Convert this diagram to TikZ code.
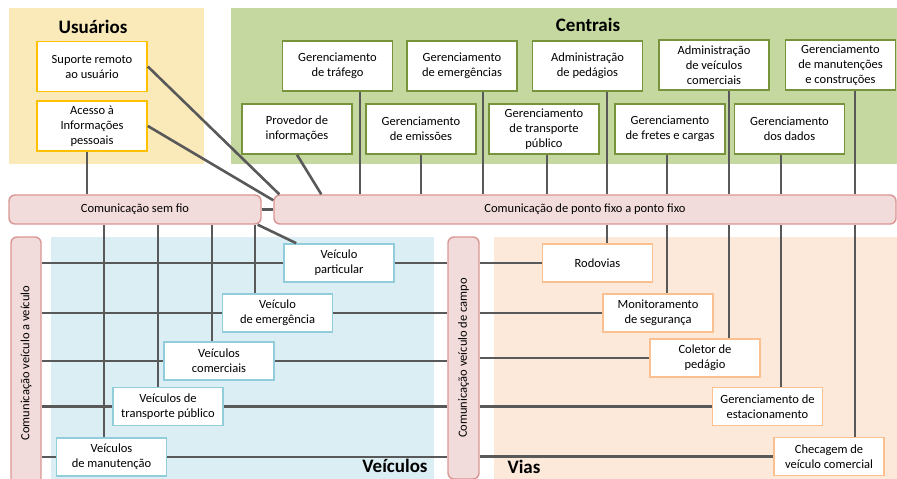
\documentclass[tikz,border=0pt]{standalone}
\usepackage{fontspec}
\setmainfont{Carlito}
\usepackage{tikz}
\definecolor{usrbg}{HTML}{FAE9B9}
\definecolor{usrline}{HTML}{FFC000}
\definecolor{cenbg}{HTML}{C4D89F}
\definecolor{cenline}{HTML}{77933C}
\definecolor{veibg}{HTML}{DBEEF4}
\definecolor{veiline}{HTML}{92CDDC}
\definecolor{viabg}{HTML}{FDE9D9}
\definecolor{vialine}{HTML}{FAC090}
\definecolor{barfill}{HTML}{F2DCDB}
\definecolor{barline}{HTML}{D99694}
\definecolor{wire}{HTML}{595959}
\def\boxfont{\fontsize{12.5}{15}\selectfont}
\def\titlefont{\fontsize{19}{22}\selectfont\bfseries}
\tikzset{
  basebox/.style={fill=white, line width=1.6pt, align=center, inner sep=1pt, font=\boxfont},
  usrbox/.style={basebox, draw=usrline, minimum width=110pt, minimum height=50pt},
  cenbox/.style={basebox, draw=cenline, minimum width=110pt, minimum height=50pt},
  veibox/.style={basebox, draw=veiline, minimum width=110pt, minimum height=38pt},
  viabox/.style={basebox, draw=vialine, minimum width=110pt, minimum height=38pt},
  combar/.style={fill=barfill, draw=barline, line width=1.4pt, rounded corners=6pt, font=\boxfont, inner sep=0pt},
  wire/.style={draw=wire, line width=2.6pt}
}

\begin{document}
\begin{tikzpicture}[x=1pt,y=-1pt]
\useasboundingbox (0,0) rectangle (897,479);
\fill[usrbg] (9,8) rectangle (204,164);
\fill[cenbg] (231,8) rectangle (897,164);
\fill[veibg] (51,237) rectangle (434,479);
\fill[viabg] (494,237) rectangle (897,479);
\node at (93,27) [font=\titlefont] {Usuários};
\node at (588,25) [font=\titlefont] {Centrais};
\node at (395,466) [font=\titlefont] {Veículos};
\node at (524,467) [font=\titlefont] {Vias};

\node (sup) at (92,66.5) [usrbox] {Suporte remoto\\ao usuário};
\node (ace) at (92,126) [usrbox] {Acesso à\\Informações\\pessoais};

\node (traf) at (337.5,66) [cenbox] {Gerenciamento\\de tráfego};
\node (emer) at (462,66) [cenbox] {Gerenciamento\\de emergências};
\node (ped) at (587.5,66) [cenbox] {Administração\\de pedágios};
\node (vcom) at (714,65) [cenbox] {Administração\\de veículos\\comerciais};
\node (manu) at (840.5,65) [cenbox] {Gerenciamento\\de manutenções\\e construções};
\node (prov) at (297,129) [cenbox] {Provedor de\\informações};
\node (emis) at (421,129) [cenbox] {Gerenciamento\\de emissões};
\node (tpub) at (544,129) [cenbox] {Gerenciamento\\de transporte\\público};
\node (fret) at (670,129) [cenbox] {Gerenciamento\\de fretes e cargas};
\node (dados) at (789.5,129) [cenbox] {Gerenciamento\\dos dados};

\node (semfio) at (135,209.5) [combar, minimum width=252pt, minimum height=29pt] {Comunicação sem fio};
\node (fixo) at (585,209.5) [combar, minimum width=622pt, minimum height=29pt] {Comunicação de ponto fixo a ponto fixo};
\node (v2v) at (26,363) [combar, rotate=90, minimum width=252pt, minimum height=30pt] {Comunicação veículo a veículo};
\node (campo) at (463.5,358) [combar, rotate=90, minimum width=242pt, minimum height=31pt] {Comunicação veículo de campo};

\node (part) at (339,263) [veibox] {Veículo\\particular};
\node (emg) at (277.5,313) [veibox] {Veículo\\de emergência};
\node (vcm) at (219,361) [veibox] {Veículos\\comerciais};
\node (vtp) at (168,406.5) [veibox] {Veículos de\\transporte público};
\node (vman) at (111.5,457) [veibox] {Veículos\\de manutenção};

\node (rod) at (597.5,263) [viabox] {Rodovias};
\node (mon) at (658,313) [viabox] {Monitoramento\\de segurança};
\node (col) at (705,358) [viabox] {Coletor de\\pedágio};
\node (est) at (767.5,406.5) [viabox] {Gerenciamento de\\estacionamento};
\node (chk) at (829,456.5) [viabox] {Checagem de\\veículo comercial};

\draw[wire] ([xshift=-5]ace.south) -- ([xshift=-5]ace.south |- semfio.north);
\draw[wire] (sup.east) -- ([xshift=6]fixo.north west);
\draw[wire] (ace.east) -- ([yshift=-6]fixo.north west);
\draw[wire] (prov.south) -- ([xshift=48]fixo.north west);
\draw[wire] (semfio.east) -- (fixo.west);
\draw[wire] ([xshift=22.5]traf.south) -- ([xshift=22.5]traf.south |- fixo.north);
\draw[wire] ([xshift=21]emer.south) -- ([xshift=21]emer.south |- fixo.north);
\draw[wire] ([xshift=19.5]ped.south) -- ([xshift=19.5]ped.south |- fixo.north);
\draw[wire] ([xshift=15]vcom.south) -- ([xshift=15]vcom.south |- fixo.north);
\draw[wire] ([xshift=14.5]manu.south) -- ([xshift=14.5]manu.south |- fixo.north);
\draw[wire] (emis.south) -- (emis.south |- fixo.north);
\draw[wire] ([xshift=3]tpub.south) -- ([xshift=3]tpub.south |- fixo.north);
\draw[wire] ([xshift=-3]fret.south) -- ([xshift=-3]fret.south |- fixo.north);
\draw[wire] ([xshift=-8.5]dados.south) -- ([xshift=-8.5]dados.south |- fixo.north);

\draw[wire] ([xshift=9.5]rod.north) -- ([xshift=9.5]rod.north |- fixo.south);
\draw[wire] ([xshift=9]mon.north) -- ([xshift=9]mon.north |- fixo.south);
\draw[wire] ([xshift=24]col.north) -- ([xshift=24]col.north |- fixo.south);
\draw[wire] ([xshift=13.5]est.north) -- ([xshift=13.5]est.north |- fixo.south);
\draw[wire] ([xshift=26]chk.north) -- ([xshift=26]chk.north |- fixo.south);

\draw[wire] ([xshift=-7.5]vman.north) -- ([xshift=-7.5]vman.north |- semfio.south);
\draw[wire] ([xshift=-10]vtp.north) -- ([xshift=-10]vtp.north |- semfio.south);
\draw[wire] ([xshift=-7]vcm.north) -- ([xshift=-7]vcm.north |- semfio.south);
\draw[wire] ([xshift=-22.5]emg.north) -- ([xshift=-22.5]emg.north |- semfio.south);
\draw[wire] ([xshift=-4]semfio.south east) -- ([xshift=13]part.north west);

\draw[wire] (part -| v2v.south) -- (part.west);
\draw[wire] (part.east) -- (part -| campo.north);
\draw[wire] (rod -| campo.south) -- (rod.west);
\draw[wire] (emg -| v2v.south) -- (emg.west);
\draw[wire] (emg.east) -- (emg -| campo.north);
\draw[wire] (mon -| campo.south) -- (mon.west);
\draw[wire] (vcm -| v2v.south) -- (vcm.west);
\draw[wire] (vcm.east) -- (vcm -| campo.north);
\draw[wire] (col -| campo.south) -- (col.west);
\draw[wire] (vtp -| v2v.south) -- (vtp.west);
\draw[wire] (vtp.east) -- (vtp -| campo.north);
\draw[wire] (est -| campo.south) -- (est.west);
\draw[wire] (vman -| v2v.south) -- (vman.west);
\draw[wire] (vman.east) -- (vman -| campo.north);
\draw[wire] (chk -| campo.south) -- (chk.west);
\end{tikzpicture}
\end{document}
